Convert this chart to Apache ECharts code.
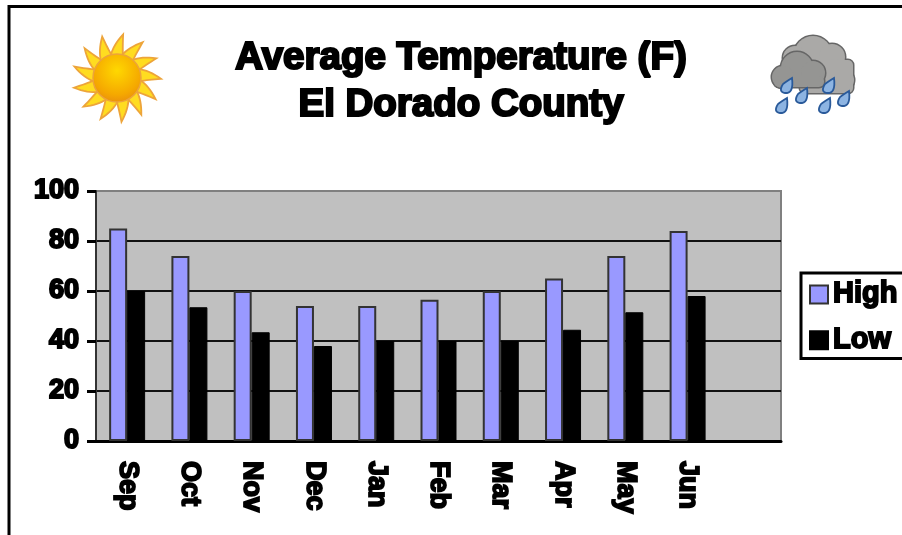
<!DOCTYPE html>
<html><head><meta charset="utf-8">
<style>html,body{margin:0;padding:0;background:#fff}#c{width:902px;height:535px}</style>
<script src="https://cdn.jsdelivr.net/npm/echarts@6/dist/echarts.min.js"></script>
</head><body><div id="c"></div>
<script>
const categories = ['Sep','Oct','Nov','Dec','Jan','Feb','Mar','Apr','May','Jun',''];
const highValues = [85,74,60,54,54,56.5,60,65,74,84,null];
const lowValues = [60,53.5,43.5,38,40,40,40,44.5,51.5,58,null];
const titleLines = 'Average Temperature (F)\nEl Dorado County';
const FONT = '"Liberation Sans", Arial, sans-serif';

// sample a chain of quadratic curves into polygon points for the decorative icons
function curve(p0, segs) {
  const pts = [p0];
  let cur = p0;
  segs.forEach(s => {
    for (let k = 1; k <= 8; k++) {
      const t = k / 8, u = 1 - t;
      pts.push([u * u * cur[0] + 2 * u * t * s[0][0] + t * t * s[1][0], u * u * cur[1] + 2 * u * t * s[0][1] + t * t * s[1][1]]);
    }
    cur = s[1];
  });
  return pts;
}
function sun(cx, cy) {
  const els = [];
  const n = 13;
  for (let i = 0; i < n; i++) {
    const a = i / n * Math.PI * 2 - Math.PI / 2;
    const pt = (r, d) => [cx + r * Math.cos(a + d), cy + r * Math.sin(a + d)];
    els.push({type: 'polygon', silent: true, shape: {points: curve(pt(23, -0.28), [[pt(33, -0.12), pt(44, 0.14)], [pt(31, 0.18), pt(23, 0.26)]])},
      style: {fill: '#ffdc20', stroke: '#eda43a', lineWidth: 1.8}});
  }
  els.push({type: 'circle', silent: true, shape: {cx, cy, r: 24}, style: {
    fill: {type: 'radial', x: 0.5, y: 0.35, r: 0.7, colorStops: [{offset: 0, color: '#ffd800'}, {offset: 0.7, color: '#f5a800'}, {offset: 1, color: '#e88a10'}]},
    stroke: '#eda43a', lineWidth: 1.5}});
  return els;
}
function cloud(circles, base, fill) {
  const els = [];
  circles.forEach(c => els.push({type: 'circle', silent: true, shape: {cx: c[0], cy: c[1], r: c[2]}, style: {fill: '#666', stroke: '#666', lineWidth: 3}}));
  els.push({type: 'rect', silent: true, shape: base, style: {fill: '#666', stroke: '#666', lineWidth: 3}});
  circles.forEach(c => els.push({type: 'circle', silent: true, shape: {cx: c[0], cy: c[1], r: c[2]}, style: {fill}}));
  els.push({type: 'rect', silent: true, shape: base, style: {fill}});
  return els;
}
function drop(x, y) {
  return {type: 'polygon', silent: true, shape: {points: curve([x + 6, y - 9], [[[x + 8, y + 7], [x - 1, y + 6]], [[x - 8, y + 5], [x - 3, y - 3]], [[x + 1, y - 6], [x + 6, y - 9]]])},
    style: {fill: '#8db4e2', stroke: '#2a5a9a', lineWidth: 1.8}};
}
const graphics = [
  {type: 'rect', silent: true, z: -10, shape: {x: 9, y: 6.5, width: 1000, height: 1000}, style: {fill: 'transparent', stroke: '#000', lineWidth: 3}},
  ...sun(117, 78),
  ...cloud([[813, 55, 19], [795, 58, 12], [832, 57, 13], [843, 80, 11], [836, 74, 15]], {x: 800, y: 60, width: 53, height: 33, r: 5}, '#aaa9a7'),
  ...cloud([[797, 68, 16], [783, 77, 11], [813, 73, 12]], {x: 774, y: 76, width: 50, height: 11, r: 5}, '#959593'),
  drop(786, 87), drop(801, 97), drop(781, 107), drop(828, 87), drop(824, 107), drop(843, 100)
];

const chart = echarts.init(document.getElementById('c'), null, {renderer: 'canvas'});
chart.setOption({
  animation: false,
  backgroundColor: '#fff',
  title: {text: titleLines, left: 456, top: 30, textAlign: 'center',
    textStyle: {fontFamily: FONT, fontWeight: 'bold', fontSize: 38.5, lineHeight: 47, color: '#000', textBorderColor: '#000', textBorderWidth: 2.2}},
  legend: {
    orient: 'vertical', left: 801, top: 273, padding: [6, 40, 3, 8], itemGap: 15, itemWidth: 18, itemHeight: 18,
    backgroundColor: '#fff', borderColor: '#000', borderWidth: 3,
    textStyle: {fontFamily: FONT, fontWeight: 'bold', fontSize: 29, color: '#000', textBorderColor: '#000', textBorderWidth: 1.8},
    data: [{name: 'High', icon: 'rect'}, {name: 'Low', icon: 'rect'}]
  },
  grid: {left: 96, right: 121, top: 191, height: 250, show: true, backgroundColor: '#c0c0c0', borderColor: '#808080', borderWidth: 2},
  xAxis: {type: 'category', data: categories,
    axisLine: {lineStyle: {color: '#000', width: 3}},
    axisTick: {alignWithLabel: false, length: 9, lineStyle: {color: '#000', width: 3}},
    axisLabel: {interval: 0, rotate: -90, margin: 20, fontFamily: FONT, fontWeight: 'bold', fontSize: 27, color: '#000', textBorderColor: '#000', textBorderWidth: 1.8}},
  yAxis: {type: 'value', min: 0, max: 100, interval: 20,
    axisLine: {show: true, lineStyle: {color: '#333', width: 2}},
    axisTick: {show: true, length: 9, lineStyle: {color: '#000', width: 3}},
    axisLabel: {margin: 17, fontFamily: FONT, fontWeight: 'bold', fontSize: 27, color: '#000', textBorderColor: '#000', textBorderWidth: 2},
    splitLine: {show: true, showMaxLine: false, lineStyle: {color: '#111', width: 2}}},
  series: [
    {name: 'High', type: 'bar', data: highValues, barWidth: 18, barGap: '0%', itemStyle: {color: '#9999ff', borderColor: '#333', borderWidth: 2}},
    {name: 'Low', type: 'bar', data: lowValues, barWidth: 18, itemStyle: {color: '#000', borderColor: '#000', borderWidth: 1}}
  ],
  graphic: graphics
});
</script></body></html>
